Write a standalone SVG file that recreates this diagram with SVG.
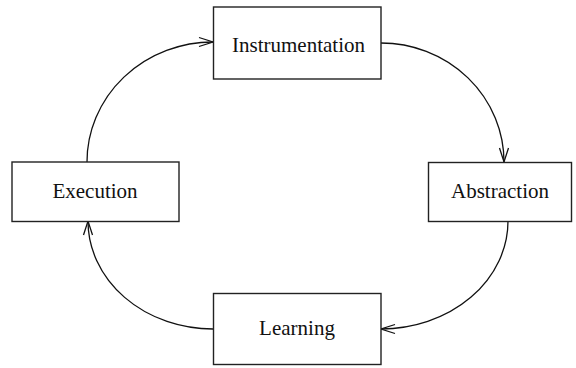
<svg xmlns="http://www.w3.org/2000/svg" width="576" height="368" viewBox="0 0 576 368">
<defs>
<style>
.box{fill:#fff;stroke:#222;stroke-width:1.4}
.lbl{font-family:"Liberation Serif","Times New Roman",serif;font-size:21px;fill:#111;text-anchor:middle}
.edge{fill:none;stroke:#111;stroke-width:1.3;marker-end:url(#arr)}
</style>
<marker id="arr" markerUnits="userSpaceOnUse" markerWidth="16" markerHeight="12" refX="14" refY="4.5" orient="auto" overflow="visible">
<path d="M0,0 L14,4.5 L0,9" fill="none" stroke="#111" stroke-width="1.3"/>
</marker>
</defs>
<rect width="576" height="368" fill="#fff"/>
<g id="connectors">
<path class="edge" d="M87,162 A126,120 0 0 1 213,42"/>
<path class="edge" d="M381,43 A123,119 0 0 1 504,162"/>
<path class="edge" d="M508,221 A127,108 0 0 1 381,329"/>
<path class="edge" d="M213,329 A125,108 0 0 1 88,221"/>
</g>
<g id="instrumentation">
<rect class="box" x="213.5" y="7" width="167.5" height="72"/>
<text class="lbl" x="298.5" y="52">Instrumentation</text>
</g>
<g id="execution">
<rect class="box" x="12" y="162" width="167" height="59.5"/>
<text class="lbl" x="95" y="198">Execution</text>
</g>
<g id="abstraction">
<rect class="box" x="428.5" y="162.5" width="143" height="59"/>
<text class="lbl" x="500" y="198">Abstraction</text>
</g>
<g id="learning">
<rect class="box" x="213.5" y="293.5" width="167.5" height="71"/>
<text class="lbl" x="297" y="334.5">Learning</text>
</g>
</svg>
